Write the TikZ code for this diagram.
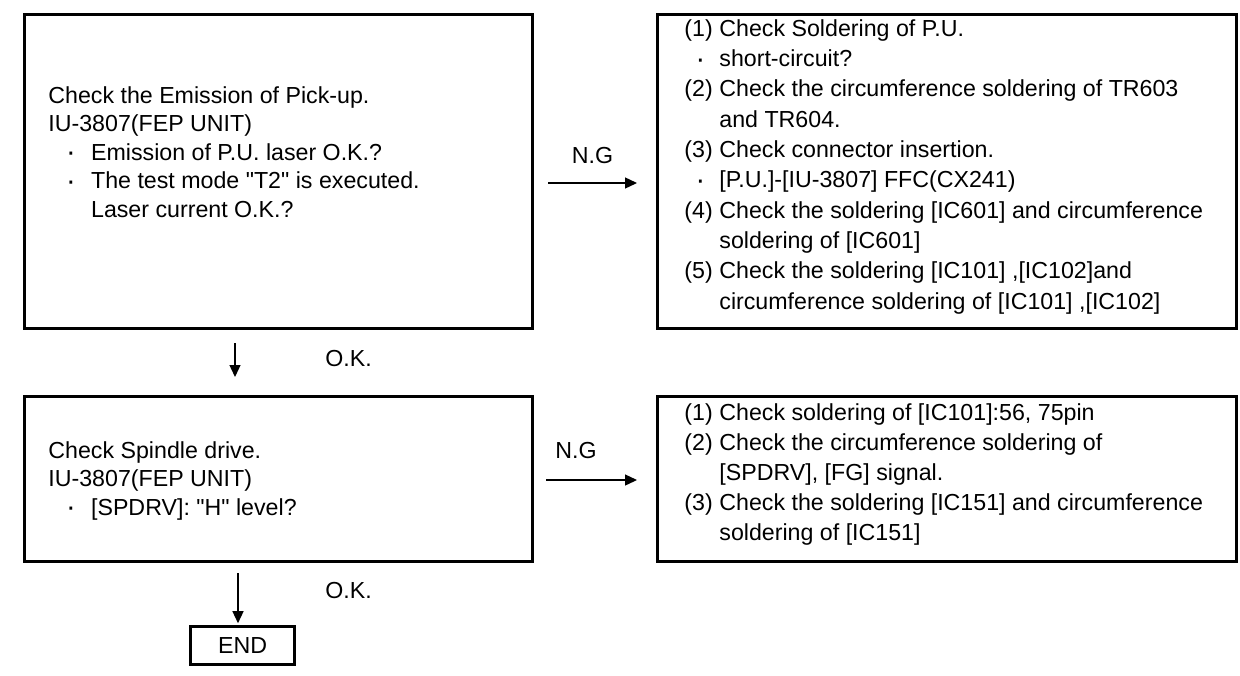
\documentclass[tikz,border=0pt]{standalone}
\usepackage{fontspec}
\setmainfont{Liberation Sans}[Ligatures=TeXOff]
\usetikzlibrary{arrows.meta}
\newcommand\dotb{\raisebox{-0.8pt}{\scalebox{1.25}{·}}}
\newcommand\ablt{\kern11.25pt\hbox to 0pt{\hss\dotb\hss}\kern10.1pt}
\newcommand\aind{\kern21.35pt}
\newcommand\bnum[1]{\hbox to 17.5pt{#1\hss}}
\newcommand\bblt{\kern8pt\hbox to 0pt{\hss\dotb\hss}\kern9.5pt}
\newcommand\bind{\kern17.5pt}
\newcommand\tlines[2]{\vtop{\baselineskip=#1\lineskiplimit=-20pt\lineskip=0pt #2}}
\begin{document}
\begin{tikzpicture}[x=0.5pt,y=-0.5pt,
  box/.style={draw=black,line width=1.5pt,inner sep=0pt},
  txt/.style={anchor=base west,inner sep=0pt,font=\fontsize{11.6pt}{14pt}\selectfont},
  arr/.style={line width=0.65pt,-{Triangle[width=5.5pt,length=6pt]}}]
\useasboundingbox (0,0) rectangle (1240,675);
\fill[white] (0,0) rectangle (1240,675);
% boxes
\node[box,minimum width=254pt,minimum height=157pt] (A) at (278.5,171.5) {};
\node[box,minimum width=289.25pt,minimum height=157pt] (B) at (946.75,171.5) {};
\node[box,minimum width=254pt,minimum height=82.75pt] (C) at (278.5,478.75) {};
\node[box,minimum width=289.25pt,minimum height=82.75pt] (D) at (946.75,478.75) {};
\node[box,minimum width=52pt,minimum height=19pt,font=\fontsize{11.6pt}{14pt}\selectfont] (END) at (242.7,645.7) {END};
% texts
\node[txt] (tA) at (48,103) {\tlines{14.3pt}{%
\hbox{Check the Emission of Pick-up.}%
\hbox{IU-3807(FEP UNIT)}%
\hbox{\ablt Emission of P.U. laser O.K.?}%
\hbox{\ablt The test mode "T2" is executed.}%
\hbox{\aind Laser current O.K.?}}};
\node[txt] (tB) at (684,36.3) {\tlines{15.15pt}{%
\hbox{\bnum{(1)}Check Soldering of P.U.}%
\hbox{\bblt short-circuit?}%
\hbox{\bnum{(2)}Check the circumference soldering of TR603}%
\hbox{\bind and TR604.}%
\hbox{\bnum{(3)}Check connector insertion.}%
\hbox{\bblt [P.U.]-[IU-3807] FFC(CX241)}%
\hbox{\bnum{(4)}Check the soldering [IC601] and circumference}%
\hbox{\bind soldering of [IC601]}%
\hbox{\bnum{(5)}Check the soldering [IC101] ,[IC102]and}%
\hbox{\bind circumference soldering of [IC101] ,[IC102]}}};
\node[txt] (tC) at (48,458) {\tlines{14.3pt}{%
\hbox{Check Spindle drive.}%
\hbox{IU-3807(FEP UNIT)}%
\hbox{\ablt [SPDRV]: "H" level?}}};
\node[txt] (tD) at (684,420) {\tlines{15pt}{%
\hbox{\bnum{(1)}Check soldering of [IC101]:56, 75pin}%
\hbox{\bnum{(2)}Check the circumference soldering of}%
\hbox{\bind [SPDRV], [FG] signal.}%
\hbox{\bnum{(3)}Check the soldering [IC151] and circumference}%
\hbox{\bind soldering of [IC151]}}};
% labels
\node[txt] (ng1) at (571.5,163.3) {N.G};
\node[txt] (ng2) at (555,458.3) {N.G};
\node[txt] (ok1) at (325,366.3) {O.K.};
\node[txt] (ok2) at (325,598.3) {O.K.};
% connectors
\coordinate (n1s) at (548,183);
\coordinate (n1e) at (637,183);
\coordinate (n2s) at (546,480);
\coordinate (n2e) at (637,480);
\coordinate (o1s) at (235,343);
\coordinate (o1e) at (235,377);
\coordinate (o2s) at (238,573);
\draw[arr] (n1s) -- (n1e);
\draw[arr] (n2s) -- (n2e);
\draw[arr] (o1s) -- (o1e);
\draw[arr,shorten >=1pt] (o2s) -- (o2s |- END.north);
\end{tikzpicture}
\end{document}
